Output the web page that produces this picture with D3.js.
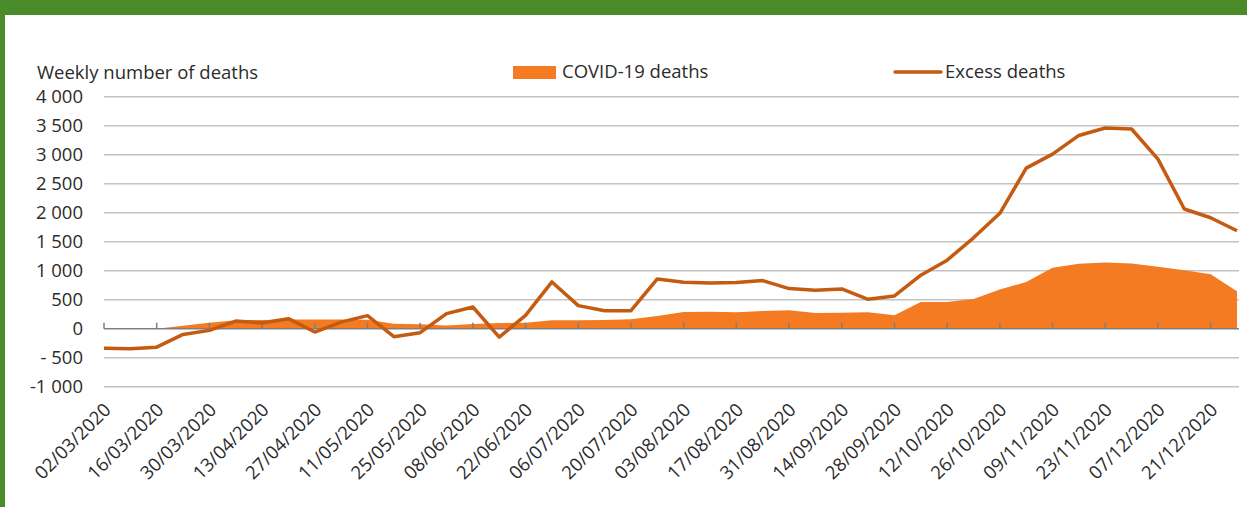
<!DOCTYPE html>
<html lang="en">
<head>
  <meta charset="UTF-8">
  <title>Weekly number of deaths</title>
  <script src="https://d3js.org/d3.v7.min.js"></script>
</head>
<body style="margin:0; background:#fff;">

<div id="chart"></div>

<script>

var width = 1247, height = 507;

// weeks, Monday dates
var weeks = ["02/03/2020","09/03/2020","16/03/2020","23/03/2020","30/03/2020","06/04/2020","13/04/2020","20/04/2020",
  "27/04/2020","04/05/2020","11/05/2020","18/05/2020","25/05/2020","01/06/2020","08/06/2020","15/06/2020",
  "22/06/2020","29/06/2020","06/07/2020","13/07/2020","20/07/2020","27/07/2020","03/08/2020","10/08/2020",
  "17/08/2020","24/08/2020","31/08/2020","07/09/2020","14/09/2020","21/09/2020","28/09/2020","05/10/2020",
  "12/10/2020","19/10/2020","26/10/2020","02/11/2020","09/11/2020","16/11/2020","23/11/2020","30/11/2020",
  "07/12/2020","14/12/2020","21/12/2020","28/12/2020"];

var covidDeaths = [0, 0, 0, 52, 104, 144, 150, 160, 160, 160, 156, 85, 75, 57, 80, 97,
  104, 144, 144, 149, 161, 218, 287, 294, 282, 304, 317, 270, 277, 282, 230, 462,
  460, 510, 675, 806, 1049, 1118, 1142, 1125, 1066, 1009, 939, 645];

var excessDeaths = [-338, -345, -318, -99, -29, 132, 97, 173, -58, 114, 225, -138, -69, 260, 374, -145,
  230, 806, 398, 311, 311, 858, 801, 789, 795, 830, 692, 663, 685, 507, 564, 922,
  1182, 1567, 1989, 2768, 3010, 3332, 3460, 3443, 2924, 2064, 1913, 1689];

var yTicks = [4000, 3500, 3000, 2500, 2000, 1500, 1000, 500, 0, -500, -1000];
var yTickLabels = ["4 000", "3 500", "3 000", "2 500", "2 000", "1 500", "1 000", "500", "0", "- 500", "-1 000"];

var font = "'Open Sans', 'Noto Sans', sans-serif";
var textColor = "#2b2b2b";
var fs = 18.5;

var svg = d3.select("#chart").append("svg")
  .attr("width", width)
  .attr("height", height)
  .style("display", "block")
  .style("font-family", font);

// green frame (top and left)
svg.append("rect").attr("x", 0).attr("y", 0).attr("width", width).attr("height", 15).attr("fill", "#4a8c2a");
svg.append("rect").attr("x", 0).attr("y", 0).attr("width", 5).attr("height", height).attr("fill", "#4a8c2a");

var x = d3.scalePoint()
  .domain(d3.range(weeks.length))
  .range([104, 1237]);

var y = d3.scaleLinear()
  .domain([-1000, 4000])
  .range([386.7, 96.7]);

// gridlines
svg.append("g")
  .selectAll("line")
  .data(yTicks.filter(d => d !== 0))
  .join("line")
    .attr("x1", 104)
    .attr("x2", 1239)
    .attr("y1", d => y(d))
    .attr("y2", d => y(d))
    .attr("stroke", "#c3c3c3")
    .attr("stroke-width", 1.5);

// y labels
svg.append("g")
  .selectAll("text")
  .data(yTicks)
  .join("text")
    .attr("x", 83)
    .attr("y", d => y(d))
    .attr("dy", "0.35em")
    .attr("text-anchor", "end")
    .attr("font-size", fs)
    .attr("fill", textColor)
    .text((d, i) => yTickLabels[i]);

// COVID-19 deaths area
var area = d3.area()
  .x((d, i) => x(i))
  .y0(y(0))
  .y1(d => y(d));

svg.append("path")
  .datum(covidDeaths)
  .attr("fill", "#f47b22")
  .attr("d", area);

// zero axis with ticks every 2 weeks
svg.append("line")
  .attr("x1", 104).attr("x2", 1239)
  .attr("y1", y(0)).attr("y2", y(0))
  .attr("stroke", "#7f7f7f")
  .attr("stroke-width", 1.5);

var tickIdx = d3.range(0, weeks.length, 2);

svg.append("g")
  .selectAll("line")
  .data(tickIdx)
  .join("line")
    .attr("x1", d => x(d)).attr("x2", d => x(d))
    .attr("y1", y(0) - 6).attr("y2", y(0))
    .attr("stroke", "#7f7f7f")
    .attr("stroke-width", 1.5);

// excess deaths line
var line = d3.line()
  .x((d, i) => x(i))
  .y(d => y(d));

svg.append("path")
  .datum(excessDeaths)
  .attr("fill", "none")
  .attr("stroke", "#c55a11")
  .attr("stroke-width", 3.5)
  .attr("stroke-linejoin", "round")
  .attr("d", line);

// x labels, rotated
svg.append("g")
  .selectAll("text")
  .data(tickIdx)
  .join("text")
    .attr("transform", d => "translate(" + (x(d) + 8) + ",411) rotate(-45)")
    .attr("text-anchor", "end")
    .attr("font-size", fs)
    .attr("fill", textColor)
    .text(d => weeks[d]);

// axis title
svg.append("text")
  .attr("x", 37)
  .attr("y", 79)
  .attr("font-size", fs)
  .attr("fill", textColor)
  .text("Weekly number of deaths");

// legend
svg.append("rect")
  .attr("x", 513).attr("y", 66)
  .attr("width", 43).attr("height", 13)
  .attr("fill", "#f47b22");
svg.append("text")
  .attr("x", 562).attr("y", 78)
  .attr("font-size", fs)
  .attr("fill", textColor)
  .text("COVID-19 deaths");

svg.append("line")
  .attr("x1", 895).attr("x2", 941)
  .attr("y1", 72).attr("y2", 72)
  .attr("stroke", "#c55a11")
  .attr("stroke-width", 3.5)
  .attr("stroke-linecap", "round");
svg.append("text")
  .attr("x", 945).attr("y", 78)
  .attr("font-size", fs)
  .attr("fill", textColor)
  .text("Excess deaths");

</script>

</body>
</html>
